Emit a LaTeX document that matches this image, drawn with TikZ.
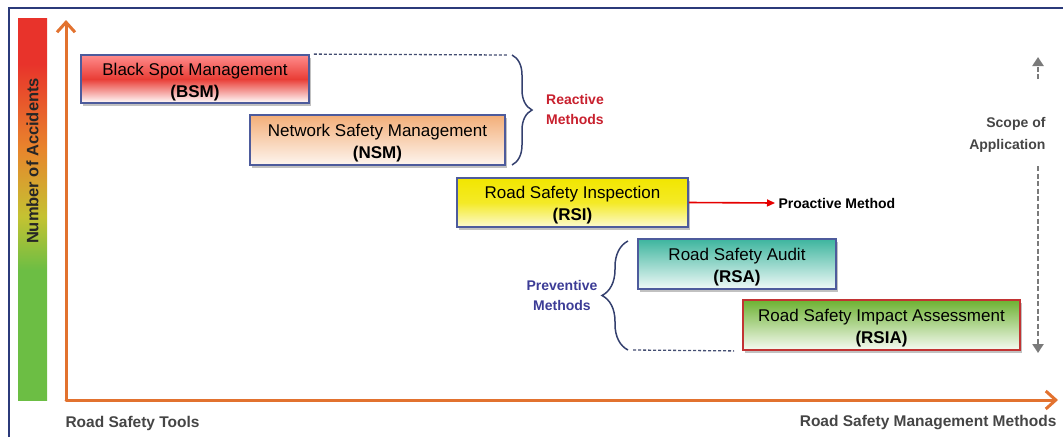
\documentclass[tikz,border=0pt]{standalone}
\usepackage{fontspec}
\setmainfont{Liberation Sans}
\usetikzlibrary{arrows.meta,shadows,decorations.pathreplacing}
\definecolor{framenavy}{HTML}{2B3A7A}
\definecolor{axisorange}{HTML}{E2722F}
\definecolor{boxedge}{HTML}{4D5B9C}
\definecolor{braceblue}{HTML}{34406E}
\definecolor{labelgray}{HTML}{454545}
\definecolor{reactred}{HTML}{C8202E}
\definecolor{prevblue}{HTML}{3C3C96}
\definecolor{scopegray}{HTML}{7A7A7A}
\definecolor{barred}{HTML}{E8332B}
\definecolor{barorange}{HTML}{E8842C}
\definecolor{baryellow}{HTML}{C4C232}
\definecolor{bargreen}{HTML}{6CBE44}
\definecolor{rsateal}{HTML}{3DB59E}
\definecolor{rsiagreen}{HTML}{6DB232}
\definecolor{rsiyellow}{HTML}{F2E600}
\definecolor{nsmpeach}{HTML}{F3AE78}
\pgfdeclareverticalshading{accbar}{100bp}{color(0bp)=(bargreen); color(42bp)=(bargreen); color(49bp)=(baryellow); color(58bp)=(barorange); color(69bp)=(barred); color(100bp)=(barred)}
\tikzset{
    axis/.style={axisorange, line width=3pt, line cap=round, -{Straight Barb[length=10pt,width=18pt,line width=3pt]}},
    axislabel/.style={font=\bfseries\fontsize{15.5}{18}\selectfont, text=labelgray},
    toolbox/.style={draw=boxedge, line width=1.8pt, align=center, inner sep=0pt,
        font=\fontsize{17}{22}\selectfont,
        drop shadow={shadow xshift=2pt, shadow yshift=-2.5pt, opacity=0.35, fill=black!70}},
    sidelabel/.style={font=\bfseries\fontsize{14}{20}\selectfont, align=center},
    groupbrace/.style={braceblue, line width=1.5pt, decorate, decoration={brace}},
    linkdash/.style={braceblue!80!gray, line width=1.3pt, dash pattern=on 3pt off 2pt},
    scopearrow/.style={scopegray, line width=2.4pt, dash pattern=on 5pt off 2.5pt, -{Triangle[length=9pt,width=11pt]}},
}
\newcommand{\boxlines}[2]{\rule{0pt}{18pt}#1\\\textbf{#2}}

\begin{document}
\begin{tikzpicture}[x=1pt,y=-1pt]
    \useasboundingbox (0,0) rectangle (1063,437);
    %frame
    \draw[framenavy, line width=1.2pt] (9,437) -- (9,8) -- (1063,8);
    %accident bar
    \shade[shading=accbar] (18,18) rectangle (47,400);
    \node[rotate=90, font=\bfseries\fontsize{16.5}{18}\selectfont, text=black!85] (acc) at (32.5,161) {Number of Accidents};
    %axes
    \coordinate (origin) at (66,400);
    \coordinate (ytip) at (66,20);
    \coordinate (xtip) at (1058,400);
    \draw[axis] (origin) -- (ytip);
    \draw[axis] (origin) -- (xtip);
    \node[axislabel, anchor=west] (tools) at (62,423) {Road Safety Tools};
    \node[axislabel, anchor=east] (methods) at (1060,423) {Road Safety Management Methods};
    %tools
    \node[toolbox, minimum width=228, minimum height=48, top color=red!45!white, bottom color=white, middle color=barred!95!white] (bsm) at (195,79) {\boxlines{Black Spot Management}{(BSM)}};
    \node[toolbox, minimum width=255, minimum height=50, top color=nsmpeach, bottom color=nsmpeach!12!white] (nsm) at (377.5,140) {\boxlines{Network Safety Management}{(NSM)}};
    \node[toolbox, minimum width=231, minimum height=49, top color=rsiyellow, bottom color=rsiyellow!18!white, middle color=rsiyellow!85!white] (rsi) at (572.5,202.5) {\boxlines{Road Safety Inspection}{(RSI)}};
    \node[toolbox, minimum width=198, minimum height=50, top color=rsateal, bottom color=rsateal!8!white] (rsa) at (737,264) {\boxlines{Road Safety Audit}{(RSA)}};
    \node[toolbox, draw=red!70!black!80, minimum width=277, minimum height=50, top color=rsiagreen, bottom color=rsiagreen!6!white] (rsia) at (881.5,325) {\boxlines{Road Safety Impact Assessment}{(RSIA)}};
    %reactive
    \coordinate (rtop) at (512,55);
    \coordinate (rbot) at (512,165);
    \draw[linkdash] ([xshift=4pt]bsm.north east) -- ([xshift=-5pt]rtop);
    \draw[groupbrace, decoration={amplitude=20pt}] (rtop) -- (rbot);
    \node[sidelabel, text=reactred] (react) at (575,109) {Reactive\\Methods};
    %proactive
    \node[sidelabel, anchor=west, font=\bfseries\fontsize{14}{16}\selectfont] (pro) at (775,203) {Proactive Method};
    \draw[red!90!black, line width=1.6pt, -{Triangle[length=8pt,width=7pt]}] (rsi.east) -- (pro.west);
    %preventive
    \coordinate (ptop) at (628,241);
    \coordinate (pbot) at (628,350);
    \draw[groupbrace, decoration={amplitude=26pt}] (pbot) -- (ptop);
    \draw[linkdash] ([xshift=5pt]pbot) -- ([xshift=-8pt]rsia.south west);
    \node[sidelabel, text=prevblue] (prev) at (562,295) {Preventive\\Methods};
    %scope
    \coordinate (supper) at (1038,79);
    \coordinate (stop) at (1038,57);
    \coordinate (slower) at (1038,166);
    \coordinate (sbot) at (1038,353);
    \draw[scopearrow] (supper) -- (stop);
    \draw[scopearrow] (slower) -- (sbot);
    \node[sidelabel, align=right, anchor=east, font=\bfseries\fontsize{14}{22}\selectfont, text=labelgray] (scope) at (1049,135) {Scope of\\Application};
\end{tikzpicture}
\end{document}
